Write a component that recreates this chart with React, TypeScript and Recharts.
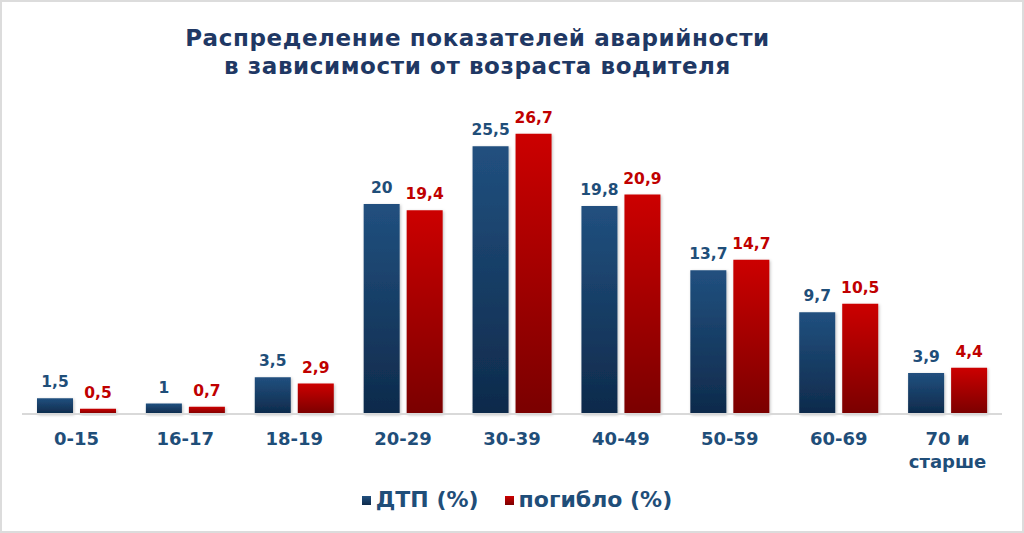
import React from 'react';
import { BarChart, Bar, XAxis, YAxis, LabelList } from 'recharts';

const categories = ['0-15', '16-17', '18-19', '20-29', '30-39', '40-49', '50-59', '60-69', '70 и\nстарше'];
const dtpValues = [1.5, 1, 3.5, 20, 25.5, 19.8, 13.7, 9.7, 3.9];
const deathValues = [0.5, 0.7, 2.9, 19.4, 26.7, 20.9, 14.7, 10.5, 4.4];
const seriesNames = ['ДТП (%)', 'погибло (%)'];
const titleLines = ['Распределение показателей аварийности', 'в зависимости от возраста водителя'];

const data = categories.map((c, i) => ({ name: c, dtp: dtpValues[i], death: deathValues[i] }));

const FONT = '"DejaVu Sans", Verdana, sans-serif';
const BLUE_TEXT = '#1f4e79';
const RED_TEXT = '#c00000';

const fmt = (v: any) => String(v).replace('.', ',');

const Tick = (props: any) => {
  const { x, y, payload } = props;
  const lines = String(payload.value).split('\n');
  return (
    <text x={x} y={y} textAnchor="middle" fill={BLUE_TEXT} fontFamily={FONT} fontWeight="bold" fontSize={18}>
      {lines.map((l, i) => (
        <tspan key={i} x={x} dy={i === 0 ? 23 : 23}>{l}</tspan>
      ))}
    </text>
  );
};

export default function App() {
  return (
    <div style={{ position: 'absolute', left: 0, top: 0, width: 1024, height: 533, background: '#fff', boxSizing: 'border-box', border: '2px solid #dcdcdc', overflow: 'hidden' }}>
      <div style={{ position: 'absolute', left: 0, top: 22, width: 951, textAlign: 'center', fontFamily: FONT, fontWeight: 'bold', fontSize: 23, letterSpacing: 0.6, lineHeight: '28px', color: '#1f3864' }}>
        {titleLines.map((t, i) => <div key={i}>{t}</div>)}
      </div>
      <div style={{ position: 'absolute', left: -2, top: -2 }}>
        <BarChart width={1024} height={533} data={data} margin={{ top: 99, right: 22, bottom: 59, left: 22 }} barGap={7} barSize={36}>
          <defs>
            <linearGradient id="gBlue" x1="0" y1="0" x2="0" y2="1">
              <stop offset="0%" stopColor="#21507f" />
              <stop offset="100%" stopColor="#0e2a4b" />
            </linearGradient>
            <linearGradient id="gRed" x1="0" y1="0" x2="0" y2="1">
              <stop offset="0%" stopColor="#cc0000" />
              <stop offset="100%" stopColor="#7a0000" />
            </linearGradient>
            <filter id="shadow" x="-20%" y="-20%" width="140%" height="140%">
              <feDropShadow dx="1" dy="1" stdDeviation="1.5" floodColor="#000" floodOpacity="0.25" />
            </filter>
          </defs>
          <XAxis dataKey="name" tickLine={false} axisLine={{ stroke: '#d9d9d9', strokeWidth: 2 }} tick={<Tick />} interval={0} height={60} />
          <YAxis hide domain={[0, 30]} />
          <Bar dataKey="dtp" name={seriesNames[0]} fill="url(#gBlue)" isAnimationActive={false} style={{ filter: 'url(#shadow)' }}>
            <LabelList dataKey="dtp" position="top" offset={11} formatter={fmt} fill={BLUE_TEXT} fontFamily={FONT} fontWeight="bold" fontSize={15.5} />
          </Bar>
          <Bar dataKey="death" name={seriesNames[1]} fill="url(#gRed)" isAnimationActive={false} style={{ filter: 'url(#shadow)' }}>
            <LabelList dataKey="death" position="top" offset={11} formatter={fmt} fill={RED_TEXT} fontFamily={FONT} fontWeight="bold" fontSize={15.5} />
          </Bar>
        </BarChart>
      </div>
      <div style={{ position: 'absolute', left: 0, top: 483, width: 1030, display: 'flex', justifyContent: 'center', fontFamily: FONT, fontWeight: 'bold', fontSize: 22, color: BLUE_TEXT, lineHeight: '30px' }}>
        {seriesNames.map((n, i) => (
          <div key={i} style={{ display: 'flex', alignItems: 'center', marginRight: i === 0 ? 26 : 0 }}>
            <span style={{ display: 'inline-block', width: 9, height: 9, marginRight: 5, background: i === 0 ? 'linear-gradient(#21507f,#0e2a4b)' : 'linear-gradient(#cc0000,#7a0000)' }} />
            <span>{n}</span>
          </div>
        ))}
      </div>
    </div>
  );
}
